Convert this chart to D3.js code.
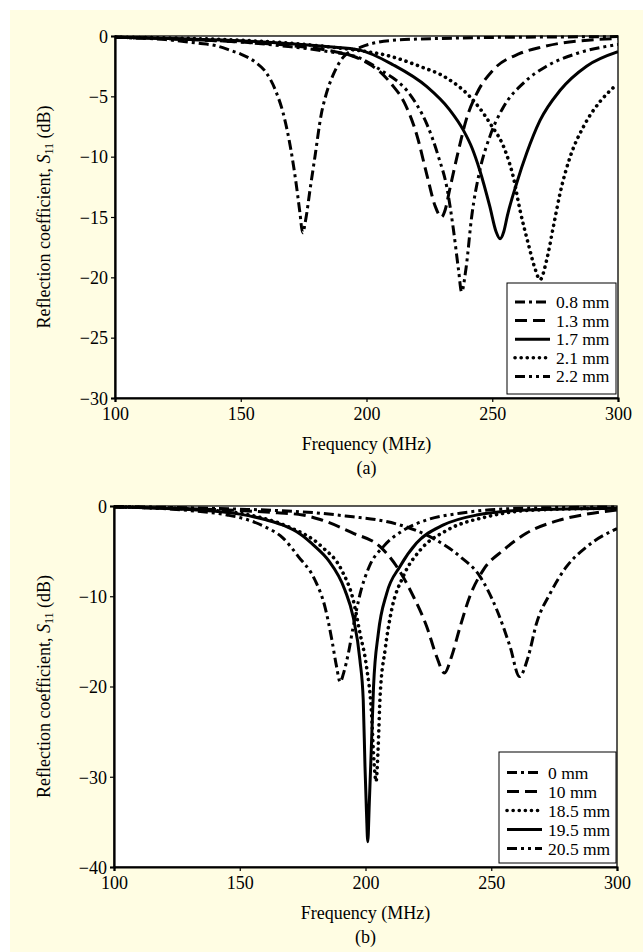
<!DOCTYPE html>
<html>
<head>
<meta charset="utf-8">
<script src="https://cdn.jsdelivr.net/npm/d3@7"></script>
<style>
  body { margin: 0; background: #fff; }
  svg { display: block; font-family: "Liberation Serif", "Times New Roman", serif; }
</style>
</head>
<body>
<script>
// frequency ticks (MHz), shared by both panels
var freqTicks = [100, 150, 200, 250, 300];

// panel (a): copper thickness
var topTicks = [0, -5, -10, -15, -20, -25, -30];
var topNames = ["0.8 mm", "1.3 mm", "1.7 mm", "2.1 mm", "2.2 mm"];
var a08 = [[100,-0.1],[120,-0.3],[133,-0.6],[140,-0.8],[146,-1.2],[150,-1.5],[156,-2.2],[160,-3.0],[164,-4.6],[167,-6.5],[170,-9.5],[172,-12.2],[173.5,-14.6],[174.6,-16.3],[176,-15.0],[177.5,-12.8],[179.5,-10.0],[182,-6.5],[184,-4.8],[187,-3.1],[191,-1.7],[198,-0.9],[205,-0.5],[215,-0.3],[230,-0.2],[250,-0.12],[275,-0.08],[300,-0.05]];
var a13 = [[100,-0.1],[130,-0.3],[150,-0.5],[170,-0.8],[185,-1.2],[195,-1.7],[200,-2.2],[205,-2.9],[210,-4.0],[215,-5.5],[220,-8.2],[224,-11.5],[227.3,-14.1],[229.8,-15.0],[231.3,-14.4],[233,-12.8],[236,-10.0],[240,-6.7],[244,-4.7],[250.4,-2.8],[261,-1.45],[270,-0.9],[277,-0.6],[288,-0.35],[300,-0.2]];
var a17 = [[100,-0.1],[130,-0.25],[150,-0.4],[170,-0.65],[185,-0.9],[197,-1.15],[210.7,-2.4],[224,-4.2],[233,-6.1],[238.5,-7.8],[242,-9.3],[245,-11.1],[249,-14.1],[251.5,-16.2],[253.1,-16.8],[254.6,-16.2],[256,-14.9],[259.7,-12.2],[263.7,-9.7],[269,-7.0],[277,-4.5],[287.5,-2.5],[300,-1.3]];
var a21 = [[100,-0.1],[130,-0.2],[150,-0.35],[170,-0.6],[185,-0.9],[197,-1.2],[208,-1.6],[221,-2.5],[232,-3.5],[241,-5.0],[249,-7.2],[255.5,-9.7],[258.5,-11.8],[261,-14.4],[264.3,-17.2],[266.9,-19.2],[269,-20.2],[271.6,-18.6],[274.3,-15.8],[277,-13.0],[281,-10.0],[286.3,-7.5],[293,-5.4],[298,-4.3]];
var a22 = [[100,-0.1],[130,-0.3],[150,-0.5],[170,-0.9],[185,-1.3],[197,-1.8],[207,-3.0],[212,-3.7],[216,-4.5],[220,-5.7],[224,-7.3],[228.6,-10.0],[232,-12.6],[234.6,-16.1],[236.6,-19.4],[237.8,-21.2],[239.6,-19.2],[241.8,-15.0],[245.1,-11.1],[249.1,-8.3],[254.4,-5.9],[262.4,-3.9],[271.6,-2.5],[283.6,-1.45],[300,-0.7]];

// panel (b): gap distance
var bottomTicks = [0, -10, -20, -30, -40];
var bottomNames = ["0 mm", "10 mm", "18.5 mm", "19.5 mm", "20.5 mm"];
var b00 = [[100,-0.05],[130,-0.2],[150,-0.35],[165,-0.5],[182,-0.8],[195,-1.2],[204,-1.5],[213.7,-2.1],[225.6,-3.4],[237.6,-5.6],[245.5,-7.8],[252.2,-11.5],[257.5,-15.6],[261.2,-18.9],[264.7,-16.7],[268,-13.0],[273.4,-9.7],[280,-6.7],[288,-4.5],[300,-2.5]];
var b10 = [[100,-0.1],[130,-0.3],[150,-0.5],[165,-0.75],[175,-1.0],[182,-1.5],[195,-3.0],[205.8,-4.5],[212.4,-6.7],[219,-10.0],[224.4,-13.4],[228.3,-16.7],[231.4,-18.5],[234.2,-16.7],[237.6,-13.4],[241.5,-10.0],[246.8,-7.1],[254.8,-4.9],[264.1,-3.0],[277.3,-1.55],[288,-0.9],[300,-0.44]];
var b185 = [[100,-0.1],[130,-0.35],[150,-0.8],[160,-1.4],[169.3,-2.3],[182.6,-4.5],[190.5,-7.1],[195.1,-10.4],[197.8,-14.1],[200.4,-17.8],[202.4,-23.0],[203.3,-28.0],[204.2,-30.5],[205,-27.0],[205.8,-21.1],[207.8,-15.9],[210.4,-11.5],[215,-7.8],[221.7,-4.9],[232.3,-2.7],[248.2,-1.2],[266.7,-0.45],[300,-0.25]];
var b195 = [[100,-0.1],[130,-0.4],[150,-0.9],[160,-1.5],[167,-2.1],[174,-3.1],[180,-4.5],[185.2,-6.0],[191.8,-9.3],[195.1,-12.3],[197.8,-17.1],[199.1,-21.5],[199.8,-28.9],[200.4,-34.0],[200.9,-37.2],[201.5,-33.0],[202.3,-27.0],[203.2,-20.0],[205.1,-14.1],[208.4,-9.7],[213.7,-6.7],[220.3,-4.1],[231,-2.1],[244.2,-1.0],[264.1,-0.45],[300,-0.25]];
var b205 = [[100,-0.1],[130,-0.5],[145,-1.0],[153.4,-1.55],[160,-2.3],[167,-3.5],[173.3,-5.6],[179.9,-8.2],[183.9,-11.2],[186.6,-14.8],[188.5,-17.8],[189.9,-19.5],[191.4,-18.4],[193.2,-16.3],[195.1,-13.4],[197.8,-9.8],[201.5,-6.7],[207.1,-4.5],[215,-2.7],[224.3,-1.55],[237.6,-0.8],[257.5,-0.3],[300,-0.1]];

var styles = [
  {dash: "10,4,3,4", width: 3, cap: "butt"},       // dash-dot
  {dash: "12,6", width: 3, cap: "butt"},           // dashed
  {dash: null, width: 3, cap: "butt"},             // solid
  {dash: "0.1,6", width: 3.6, cap: "round"},       // dotted
  {dash: "10,4,3,4,3,4", width: 3, cap: "butt"}    // dash-dot-dot
];
var bStyles = [styles[0], styles[1], styles[3], styles[2], styles[4]];

var W = 643, H = 952;
var svg = d3.select("body").append("svg").attr("width", W).attr("height", H);

svg.append("rect").attr("x", 10).attr("y", 10).attr("width", W - 10).attr("height", H - 10)
  .attr("fill", "#fffde3");

function drawPanel(p) {
  var x = d3.scaleLinear().domain([100, 300]).range([p.left, p.right]);
  var y = d3.scaleLinear().domain([p.ticks[p.ticks.length - 1], 0]).range([p.bottom, p.top]);
  var g = svg.append("g");

  g.append("rect")
    .attr("x", p.left).attr("y", p.top)
    .attr("width", p.right - p.left).attr("height", p.bottom - p.top)
    .attr("fill", "#fff").attr("stroke", "#000").attr("stroke-width", 1.3);

  var clipId = "clip" + p.id;
  g.append("clipPath").attr("id", clipId).append("rect")
    .attr("x", p.left).attr("y", p.top - 2)
    .attr("width", p.right - p.left).attr("height", p.bottom - p.top + 2);

  var line = d3.line()
    .x(function(d){ return x(d[0]); })
    .y(function(d){ return y(d[1]); })
    .curve(d3.curveMonotoneX);

  g.append("g").attr("clip-path", "url(#" + clipId + ")")
    .selectAll("path")
    .data(p.series)
    .enter()
    .append("path")
    .attr("d", function(d){ return line(d); })
    .attr("fill", "none")
    .attr("stroke", "#000")
    .attr("stroke-width", function(d, i){ return p.styles[i].width; })
    .attr("stroke-dasharray", function(d, i){ return p.styles[i].dash; })
    .attr("stroke-linecap", function(d, i){ return p.styles[i].cap; });

  var xAxis = g.append("g")
    .attr("transform", "translate(0," + p.bottom + ")")
    .call(d3.axisBottom(x).tickValues(freqTicks).tickSize(4).tickPadding(5));
  var yAxis = g.append("g")
    .attr("transform", "translate(" + p.left + ",0)")
    .call(d3.axisLeft(y).tickValues(p.ticks).tickSize(4).tickPadding(3));

  [xAxis, yAxis].forEach(function(a){
    a.select(".domain").attr("stroke-width", 2.2);
    a.selectAll(".tick line").attr("stroke-width", 1.2);
    a.selectAll("text")
      .attr("font-family", "Liberation Serif")
      .attr("font-size", 18)
      .attr("fill", "#000");
  });
  yAxis.selectAll(".tick text").attr("dy", "0.35em");

  g.append("text")
    .attr("x", (p.left + p.right) / 2).attr("y", p.bottom + 52)
    .attr("text-anchor", "middle").attr("font-size", 18)
    .text("Frequency (MHz)");
  g.append("text")
    .attr("x", (p.left + p.right) / 2).attr("y", p.bottom + 76)
    .attr("text-anchor", "middle").attr("font-size", 18)
    .text(p.tag);

  var yl = g.append("text")
    .attr("transform", "translate(50," + ((p.top + p.bottom) / 2) + ") rotate(-90)")
    .attr("text-anchor", "middle").attr("font-size", 18);
  yl.append("tspan").text("Reflection coefficient, ");
  yl.append("tspan").attr("font-style", "italic").text("S");
  yl.append("tspan").attr("font-size", 12).attr("dy", 3).text("11");
  yl.append("tspan").attr("dy", -3).text(" (dB)");

  // legend
  var lg = g.append("g");
  lg.append("rect")
    .attr("x", p.legend.x).attr("y", p.legend.y)
    .attr("width", p.legend.w).attr("height", p.legend.h)
    .attr("fill", "#fff").attr("stroke", "#000").attr("stroke-width", 1);
  var rows = lg.selectAll("g.row")
    .data(p.names)
    .enter()
    .append("g")
    .attr("class", "row")
    .attr("transform", function(d, i){
      return "translate(" + p.legend.x + "," + (p.legend.y + p.legend.first + i * p.legend.step) + ")";
    });
  rows.append("line")
    .attr("x1", 8).attr("x2", 8 + p.legend.len)
    .attr("y1", -6).attr("y2", -6)
    .attr("stroke", "#000")
    .attr("stroke-width", function(d, i){ return p.styles[i].width; })
    .attr("stroke-dasharray", function(d, i){ return p.styles[i].dash; })
    .attr("stroke-linecap", function(d, i){ return p.styles[i].cap; });
  rows.append("text")
    .attr("x", p.legend.len + 14).attr("y", 0)
    .attr("font-size", 17.5)
    .text(function(d){ return d; });
}

drawPanel({
  id: "a", left: 115, right: 618, top: 36, bottom: 398,
  ticks: topTicks, series: [a08, a13, a17, a21, a22], styles: styles,
  names: topNames, tag: "(a)",
  legend: {x: 507, y: 283, w: 109, h: 111, first: 25, step: 18.6, len: 35}
});

drawPanel({
  id: "b", left: 114, right: 617, top: 506, bottom: 867,
  ticks: bottomTicks, series: [b00, b10, b185, b195, b205], styles: bStyles,
  names: bottomNames, tag: "(b)",
  legend: {x: 499, y: 752, w: 117, h: 111, first: 26.5, step: 19, len: 35}
});
</script>
</body>
</html>
